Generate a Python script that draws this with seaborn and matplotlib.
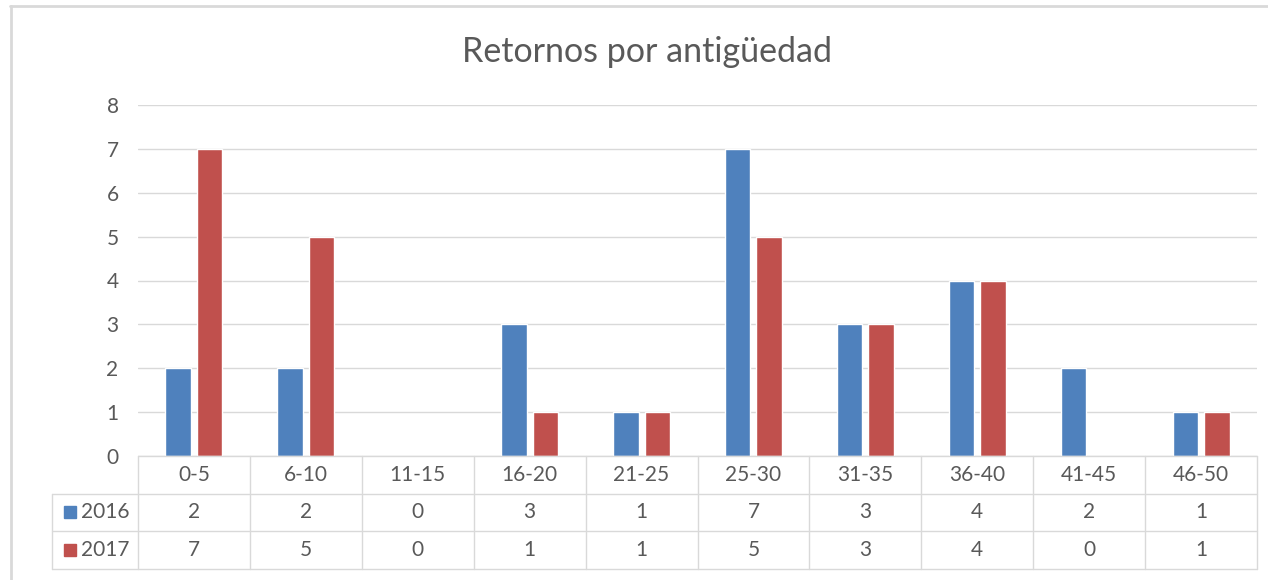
import matplotlib
matplotlib.use('Agg')
import matplotlib.pyplot as plt
from matplotlib.lines import Line2D
import seaborn as sns
import pandas as pd

# data
rangos = ['0-5', '6-10', '11-15', '16-20', '21-25', '25-30', '31-35', '36-40', '41-45', '46-50']
anios = ['2016', '2017']
valores_2016 = [2, 2, 0, 3, 1, 7, 3, 4, 2, 1]
valores_2017 = [7, 5, 0, 1, 1, 5, 3, 4, 0, 1]
y_ticks = [0, 1, 2, 3, 4, 5, 6, 7, 8]

colores = ['#4F81BD', '#C0504D']
gris_txt = '#595959'
gris_lin = '#D9D9D9'

df = pd.DataFrame({
    'rango': rangos * 2,
    'anio': [anios[0]] * len(rangos) + [anios[1]] * len(rangos),
    'valor': valores_2016 + valores_2017,
})

sns.set_style('white')
plt.rcParams['font.family'] = ['Lato', 'DejaVu Sans']
fs = 15

W, H = 1268, 580
fig = plt.figure(figsize=(W / 100, H / 100), dpi=100)
ax = fig.add_axes([138 / W, 1 - 456 / H, (1257 - 138) / W, (456 - 105) / H])

sns.barplot(data=df, x='rango', y='valor', hue='anio', palette=colores,
            saturation=1, width=0.563, gap=0.19, ax=ax, legend=False,
            errorbar=None)

ax.set_ylim(0, 8)
ax.set_xlim(-0.5, len(rangos) - 0.5)
ax.set_yticks(y_ticks)
ax.set_yticklabels([str(t) for t in y_ticks], fontsize=fs, color=gris_txt)
ax.tick_params(axis='y', length=0, pad=14)
ax.set_xticks([])
ax.set_xlabel('')
ax.set_ylabel('')
ax.grid(axis='y', color=gris_lin, linewidth=1)
ax.set_axisbelow(True)
for s in ax.spines.values():
    s.set_visible(False)

# data table below the axes
h = (493 - 456) / (456 - 105) + 0.0015
x_left = -(138 - 52) / (1257 - 138)
n = len(rangos)
kw = dict(color=gris_lin, linewidth=1, transform=ax.transAxes, clip_on=False)
ax.add_line(Line2D([0, 1], [0, 0], **kw))
for k in range(1, 4):
    ax.add_line(Line2D([x_left, 1], [-k * h, -k * h], **kw))
for i in range(n + 1):
    ax.add_line(Line2D([i / n, i / n], [0, -3 * h], **kw))
ax.add_line(Line2D([x_left, x_left], [-h, -3 * h], **kw))

tkw = dict(transform=ax.transAxes, fontsize=fs, color=gris_txt,
           ha='center', va='center', clip_on=False)
for i, r in enumerate(rangos):
    xc = (i + 0.5) / n
    ax.text(xc, -0.5 * h, r, **tkw)
    ax.text(xc, -1.5 * h, str(valores_2016[i]), **tkw)
    ax.text(xc, -2.5 * h, str(valores_2017[i]), **tkw)

x_sq = -(138 - 70) / (1257 - 138)
x_lab = -(138 - 81) / (1257 - 138)
for k, (a, c) in enumerate(zip(anios, colores)):
    yc = -(k + 1.5) * h
    ax.plot([x_sq], [yc], marker='s', markersize=8, color=c,
            transform=ax.transAxes, clip_on=False)
    ax.text(x_lab, yc, a, transform=ax.transAxes, fontsize=fs,
            color=gris_txt, ha='left', va='center', clip_on=False)

fig.text(647 / W, 1 - 52 / H, 'Retornos por antigüedad', fontsize=24.5,
         color=gris_txt, ha='center', va='center')

# chart area border (left and top edges visible)
fig.add_artist(Line2D([10.5 / W, 10.5 / W], [0, 1 - 6 / H], color=gris_lin,
                      linewidth=2, transform=fig.transFigure))
fig.add_artist(Line2D([10 / W, 1], [1 - 6 / H, 1 - 6 / H], color=gris_lin,
                      linewidth=2, transform=fig.transFigure))

fig.savefig('out.png', dpi=100, facecolor='white')
